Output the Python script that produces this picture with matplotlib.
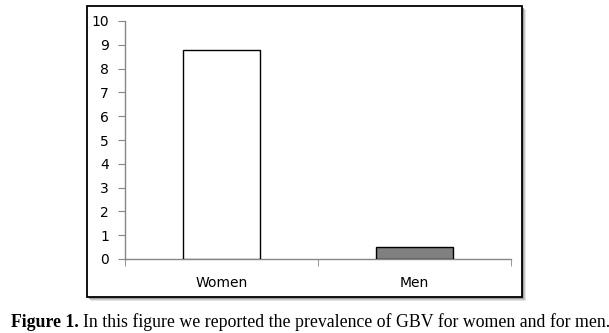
import matplotlib
matplotlib.use('Agg')
import matplotlib.pyplot as plt
from matplotlib.patches import Rectangle

groups = ['Women', 'Men']
prevalence = [8.8, 0.5]
bar_colors = ['white', '#808080']
yticks = list(range(0, 11))

W, H = 609, 333
fig = plt.figure(figsize=(W / 100, H / 100), dpi=100)

def px_box(x0, y0, x1, y1):
    # pixel box (top-left origin) -> figure fraction [l, b, w, h]
    return [x0 / W, 1 - y1 / H, (x1 - x0) / W, (y1 - y0) / H]

# frame with soft drop shadow
for off, col in [(4, '#e4e4e4'), (3, '#c8c8c8'), (2, '#a0a0a0')]:
    l, b, w, h = px_box(87 + off, 6 + off, 522 + off, 297 + off)
    fig.patches.append(Rectangle((l, b), w, h, transform=fig.transFigure,
                                 facecolor=col, edgecolor='none', zorder=0))
l, b, w, h = px_box(87, 6, 522, 297)
fig.patches.append(Rectangle((l, b), w, h, transform=fig.transFigure,
                             facecolor='white', edgecolor='black', lw=1.3, zorder=1))

ax = fig.add_axes(px_box(125, 21, 511, 259))
ax.set_zorder(5)
ax.patch.set_alpha(0)
ax.bar(range(len(groups)), prevalence, width=0.4, color=bar_colors,
       edgecolor='black', linewidth=1.0, zorder=3)
ax.set_xlim(-0.5, 1.5)
ax.set_ylim(0, 10)
ax.set_yticks(yticks)

ax.set_xticks(range(len(groups)))
ax.set_xticklabels(groups)
ax.set_xticks([-0.5, 0.5, 1.5], minor=True)
ax.tick_params(axis='x', which='major', length=0, pad=12, labelsize=10)
ax.tick_params(axis='x', which='minor', length=5, color='#868686', direction='out')
ax.tick_params(axis='y', length=5, color='#868686', direction='out', pad=6.5, labelsize=10)

for s in ['top', 'right']:
    ax.spines[s].set_visible(False)
for s in ['left', 'bottom']:
    ax.spines[s].set_color('#868686')
    ax.spines[s].set_linewidth(1.0)

# caption
t1 = fig.text(11 / W, 1 - 327 / H, 'Figure 1.', family='Liberation Serif',
              fontweight='bold', fontsize=12.75, va='baseline')
fig.canvas.draw()
bb = t1.get_window_extent()
fig.text(bb.x1 / W + 4 / W, 1 - 327 / H,
         'In this figure we reported the prevalence of GBV for women and for men.',
         family='Liberation Serif', fontsize=12.75, va='baseline')

fig.savefig('out.png', dpi=100)
